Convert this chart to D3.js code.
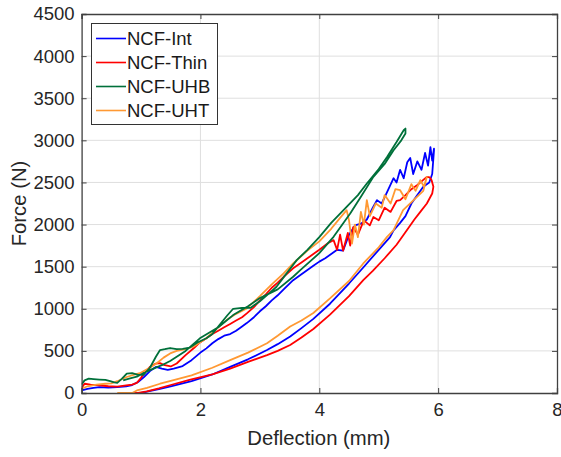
<!DOCTYPE html>
<html><head><meta charset="utf-8">
<script src="https://cdn.jsdelivr.net/npm/d3@7"></script>
<style>body{margin:0;background:#fff}svg{display:block}text{font-family:"Liberation Sans",Arial,sans-serif}</style>
</head><body><svg id="c" width="561" height="457"></svg>
<script>
const seriesNames = ["NCF-Int","NCF-Thin","NCF-UHB","NCF-UHT"];
const seriesColors = ["#0000ff","#ff0000","#00703a","#ff9933"];
const xTicks = [0,2,4,6,8];
const yTicks = [0,500,1000,1500,2000,2500,3000,3500,4000,4500];

const intLoad = [[0,30],[0.1,50],[0.2,60],[0.3,70],[0.45,65],[0.6,70],[0.75,80],[0.85,95],[0.95,130],[1.05,190],[1.15,260],[1.25,310],[1.35,290],[1.45,275],[1.55,290],[1.7,320],[1.85,390],[2.0,480],[2.1,530],[2.2,590],[2.3,640],[2.4,680],[2.5,700],[2.6,740],[2.7,790],[2.78,830],[2.9,900],[3.0,970],[3.1,1030],[3.2,1100],[3.3,1160],[3.4,1230],[3.56,1340],[3.7,1410],[3.8,1460],[3.9,1510],[4.0,1560],[4.1,1600],[4.2,1650],[4.3,1700],[4.4,1690],[4.5,1880],[4.6,1990],[4.7,2010],[4.8,2060],[4.9,2200],[4.97,2290],[5.05,2250],[5.15,2400],[5.25,2550],[5.3,2500],[5.36,2650],[5.42,2550],[5.48,2740],[5.53,2790],[5.58,2600],[5.65,2750],[5.72,2650],[5.78,2850],[5.83,2700],[5.87,2920],[5.9,2760],[5.93,2900]];
const intUnload = [[5.93,2880],[5.9,2600],[5.85,2500],[5.75,2450],[5.65,2350],[5.55,2250],[5.45,2100],[5.36,2020],[5.25,1930],[5.19,1850],[5.0,1700],[4.74,1490],[4.5,1300],[4.18,1060],[3.9,880],[3.7,770],[3.51,670],[3.3,580],[3.12,510],[2.8,400],[2.5,310],[2.2,220],[1.85,140],[1.5,80],[1.3,45],[1.1,15],[1.0,0],[0.8,0]];
const thinLoad = [[0,60],[0.05,110],[0.15,100],[0.3,90],[0.45,80],[0.6,75],[0.75,90],[0.85,100],[0.93,120],[1.0,180],[1.08,260],[1.15,310],[1.25,350],[1.32,355],[1.4,330],[1.5,315],[1.6,350],[1.75,450],[1.9,540],[1.99,600],[2.1,650],[2.2,700],[2.3,740],[2.4,780],[2.5,820],[2.6,860],[2.7,900],[2.78,945],[2.9,1020],[3.0,1100],[3.1,1170],[3.2,1250],[3.3,1310],[3.4,1380],[3.56,1480],[3.7,1550],[3.8,1600],[3.9,1650],[4.0,1700],[4.15,1780],[4.24,1815],[4.3,1700],[4.35,1880],[4.4,1690],[4.48,1900],[4.52,1750],[4.57,1970],[4.65,1880],[4.75,2050],[4.85,1990],[4.91,2090],[5.0,2050],[5.1,2200],[5.2,2150],[5.3,2280],[5.36,2290],[5.45,2350],[5.55,2420],[5.65,2470],[5.75,2530],[5.81,2566],[5.86,2560]];
const thinUnload = [[5.89,2527],[5.92,2450],[5.9,2369],[5.81,2250],[5.7,2150],[5.6,2060],[5.47,1930],[5.3,1760],[5.1,1600],[4.9,1450],[4.74,1340],[4.5,1150],[4.18,930],[3.9,760],[3.7,660],[3.51,570],[3.3,500],[3.12,450],[2.8,370],[2.5,290],[2.2,220],[1.83,160],[1.5,95],[1.3,55],[1.1,20],[0.95,0],[0.75,0]];
const uhbLoad = [[0,100],[0.05,150],[0.12,170],[0.2,165],[0.3,160],[0.4,155],[0.48,140],[0.55,125],[0.6,120],[0.68,170],[0.76,230],[0.85,235],[0.95,215],[1.04,215],[1.15,300],[1.25,430],[1.32,510],[1.4,520],[1.49,534],[1.6,520],[1.7,525],[1.82,540],[1.95,600],[2.1,650],[2.2,700],[2.3,790],[2.45,920],[2.55,1000],[2.7,1010],[2.84,1010],[3.0,1090],[3.15,1180],[3.28,1261],[3.45,1420],[3.62,1578],[3.8,1700],[4.0,1850],[4.2,2020],[4.46,2210],[4.65,2350],[4.8,2488],[5.0,2660],[5.14,2803],[5.3,2980],[5.42,3120],[5.45,3140]];
const uhbUnload = [[5.45,3080],[5.38,3000],[5.25,2883],[5.1,2720],[4.91,2566],[4.7,2330],[4.52,2131],[4.24,1854],[4.0,1660],[3.68,1459],[3.56,1380],[3.3,1230],[3.0,1127],[2.8,1030],[2.55,925],[2.3,780],[1.99,649],[1.75,500],[1.49,380],[1.35,330],[1.21,290],[1.05,240],[0.93,193],[0.8,170],[0.7,150]];
const uhtLoad = [[0,50],[0.1,80],[0.25,100],[0.4,110],[0.5,115],[0.6,140],[0.76,190],[0.9,220],[0.98,235],[1.1,280],[1.26,350],[1.38,420],[1.49,470],[1.6,500],[1.75,520],[1.88,550],[2.1,650],[2.3,780],[2.44,866],[2.6,940],[2.78,1004],[3.0,1150],[3.2,1290],[3.4,1420],[3.56,1538],[3.8,1690],[4.0,1800],[4.2,1950],[4.35,2080],[4.46,2171],[4.5,2050],[4.55,1775],[4.6,2000],[4.65,1850],[4.7,2150],[4.75,2000],[4.8,2290],[4.85,2100],[4.95,2250],[5.05,2200],[5.1,2350],[5.2,2250],[5.28,2420],[5.36,2408],[5.45,2300],[5.55,2480],[5.62,2400],[5.7,2527],[5.76,2450],[5.81,2566]];
const uhtUnload = [[5.75,2400],[5.6,2300],[5.41,2171],[5.25,1934],[5.14,1854],[5.0,1730],[4.74,1538],[4.5,1330],[4.18,1123],[3.9,950],[3.7,860],[3.51,790],[3.3,680],[3.12,590],[2.8,480],[2.5,390],[2.2,300],[1.85,210],[1.5,145],[1.32,110],[1.1,60],[0.93,30],[0.85,0],[0.6,0]];

const seriesData = [intLoad.concat(intUnload), thinLoad.concat(thinUnload), uhbLoad.concat(uhbUnload), uhtLoad.concat(uhtUnload)];

const L = 81.6, R = 557, T = 14, B = 393;
const svg = d3.select("#c");
const x = d3.scaleLinear().domain([0,8]).range([L,R]);
const y = d3.scaleLinear().domain([0,4500]).range([B,T]);

// grid
svg.append("g").selectAll("line").data(xTicks.slice(1,-1)).join("line")
  .attr("x1",d=>x(d)).attr("x2",d=>x(d)).attr("y1",T).attr("y2",B)
  .attr("stroke","#dfdfdf").attr("stroke-width",1);
svg.append("g").selectAll("line").data(yTicks.slice(1,-1)).join("line")
  .attr("y1",d=>y(d)).attr("y2",d=>y(d)).attr("x1",L).attr("x2",R)
  .attr("stroke","#dfdfdf").attr("stroke-width",1);

// series
svg.append("defs").append("clipPath").attr("id","clip").append("rect")
  .attr("x",L).attr("y",T).attr("width",R-L).attr("height",B-T);
const line = d3.line().x(d=>x(d[0])).y(d=>y(d[1]));
const order = [0,1,3,2];
svg.append("g").attr("clip-path","url(#clip)").selectAll("path").data(order).join("path")
  .attr("d",i=>line(seriesData[i])).attr("fill","none")
  .attr("stroke",i=>seriesColors[i]).attr("stroke-width",1.8).attr("stroke-linejoin","round");

// axes
const axCol = "#404040";
const fs = "18.5px";
const lfs = "20.3px";
const gx = svg.append("g").attr("transform",`translate(0,${B})`)
  .call(d3.axisBottom(x).tickValues(xTicks).tickSize(-5).tickPadding(10).tickFormat(d3.format("d")));
const gy = svg.append("g").attr("transform",`translate(${L},0)`)
  .call(d3.axisLeft(y).tickValues(yTicks).tickSize(-5).tickPadding(7).tickFormat(d3.format("d")));
const gxt = svg.append("g").attr("transform",`translate(0,${T})`)
  .call(d3.axisTop(x).tickValues(xTicks).tickSize(-5).tickFormat(""));
const gyr = svg.append("g").attr("transform",`translate(${R},0)`)
  .call(d3.axisRight(y).tickValues(yTicks).tickSize(-5).tickFormat(""));
[gx,gy,gxt,gyr].forEach(g=>{
  g.select(".domain").attr("stroke",axCol).attr("stroke-width",1.3);
  g.selectAll(".tick line").attr("stroke",axCol).attr("stroke-width",1);
  g.selectAll(".tick text").attr("fill","#262626").style("font-size",fs).attr("font-family",null);
});
gx.selectAll(".tick text").attr("dy","0.71em");

svg.append("text").attr("x",(L+R)/2 - 0.5).attr("y",445).attr("text-anchor","middle")
  .attr("fill","#262626").style("font-size",lfs).text("Deflection (mm)");
svg.append("text").attr("transform",`translate(26,${(T+B)/2}) rotate(-90)`).attr("text-anchor","middle")
  .attr("fill","#262626").style("font-size",lfs).text("Force (N)");

// legend
const lg = svg.append("g");
lg.append("rect").attr("x",91.5).attr("y",23.5).attr("width",126).attr("height",101)
  .attr("fill","#fff").attr("stroke","#333").attr("stroke-width",1);
const rows = lg.selectAll("g.row").data(seriesNames).join("g").attr("class","row")
  .attr("transform",(d,i)=>`translate(0,${38.5+i*24})`);
rows.append("line").attr("x1",96).attr("x2",126).attr("stroke",(d,i)=>seriesColors[i]).attr("stroke-width",1.6);
rows.append("text").attr("x",127).attr("dy","0.35em").attr("fill","#1a1a1a").style("font-size",fs).text(d=>d);
</script></body></html>
